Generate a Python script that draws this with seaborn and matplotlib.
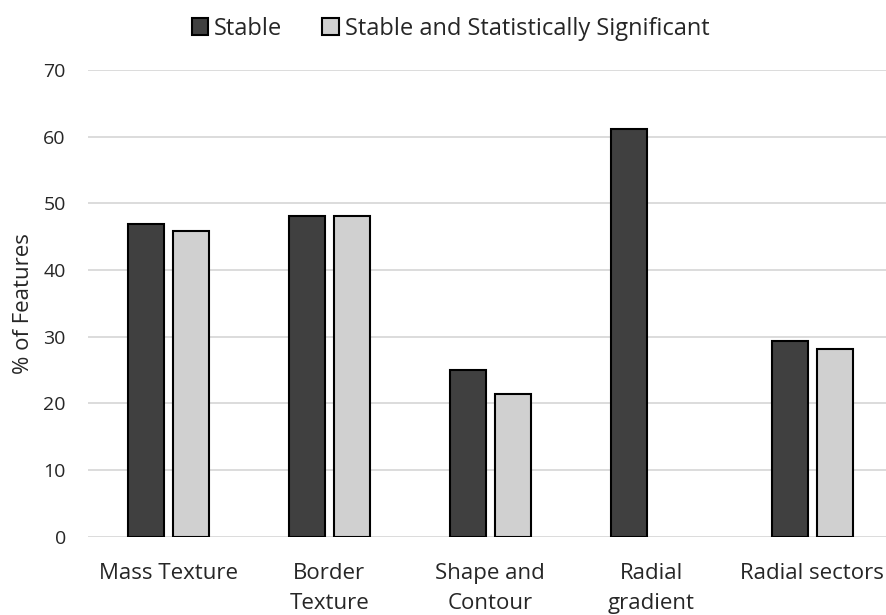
import matplotlib
matplotlib.use("Agg")
import matplotlib.pyplot as plt
import seaborn as sns
import pandas as pd
import numpy as np

categories = ["Mass Texture", "Border\nTexture", "Shape and\nContour", "Radial\ngradient", "Radial sectors"]
stable = [46.9, 48.1, 25.0, 61.2, 29.4]
stable_sig = [45.9, 48.1, 21.4, 0.0, 28.1]
series_names = ["Stable", "Stable and Statistically Significant"]
y_ticks = [0, 10, 20, 30, 40, 50, 60, 70]

df = pd.DataFrame({
    "Category": categories * 2,
    "Value": stable + stable_sig,
    "Series": [series_names[0]] * len(categories) + [series_names[1]] * len(categories),
})
# drop the empty bar (no value for Radial gradient in second series)
df = df[~((df["Series"] == series_names[1]) & (df["Value"] == 0))]

sns.set_theme(style="white")
plt.rcParams["font.family"] = ["Open Sans", "DejaVu Sans"]

fig = plt.figure(figsize=(8.87, 6.15), dpi=100)
ax = fig.add_axes([0.0992, 0.1273, 0.907, 0.7589])

sns.barplot(data=df, x="Category", y="Value", hue="Series", order=categories,
            hue_order=series_names, palette=["#404040", "#D0D0D0"],
            width=0.56, gap=0.2, edgecolor="black", linewidth=1.5, ax=ax,
            legend=True)

ax.set_ylim(0, 70)
ax.set_yticks(y_ticks)
ax.set_yticklabels([str(t) for t in y_ticks], fontsize=14)
ax.yaxis.grid(True, color="#D9D9D9", linewidth=1.3)
ax.set_axisbelow(True)
for s in ax.spines.values():
    s.set_visible(False)
ax.tick_params(axis="x", labelsize=16, length=0, pad=19)
for lbl in ax.get_xticklabels():
    lbl.set_linespacing(1.55)
ax.tick_params(axis="y", length=0, pad=16)
ax.set_xlabel("")
ax.set_ylabel("% of Features", fontsize=16, labelpad=7)

handles, labels = ax.get_legend_handles_labels()
ax.legend(handles, labels, loc="upper center", bbox_to_anchor=(0.508, 1.0), bbox_transform=fig.transFigure,
          ncol=2, frameon=False, fontsize=17, handlelength=0.7, handleheight=0.7,
          handletextpad=0.25, columnspacing=1.7, borderaxespad=0.3)

fig.savefig("out.png", dpi=100)
